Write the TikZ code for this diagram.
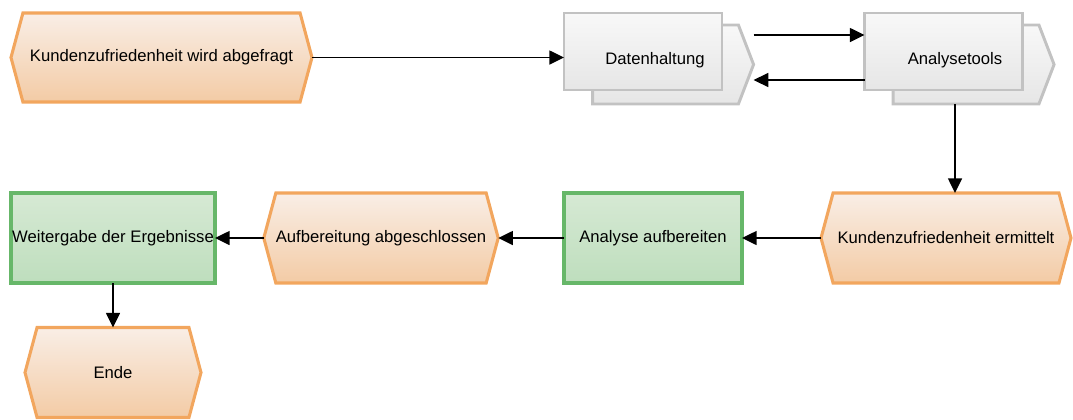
\documentclass[tikz,border=0pt]{standalone}
\usepackage{fontspec}
\setmainfont{Liberation Sans}
\usetikzlibrary{arrows.meta,shapes.symbols}
\definecolor{evline}{HTML}{F2A65E}
\definecolor{evtop}{HTML}{F9EEE6}
\definecolor{evbot}{HTML}{F3CBA5}
\definecolor{fnline}{HTML}{67B769}
\definecolor{fntop}{HTML}{D6E9D4}
\definecolor{fnbot}{HTML}{BEDEBD}
\definecolor{syline}{HTML}{C2C2C2}
\definecolor{sytop}{HTML}{F8F8F8}
\definecolor{sybot}{HTML}{E6E6E6}
\begin{document}
\begin{tikzpicture}[x=0.75pt,y=-0.75pt,
  font=\fontsize{12.5}{14}\selectfont,
  every node/.style={inner sep=0pt,outer sep=0pt},
  evt/.style={signal,signal to=east and west,signal pointer angle=150,
    draw=evline,line width=2.3pt,top color=evtop,bottom color=evbot,
    minimum height=90*0.75pt},
  fun/.style={rectangle,draw=fnline,line width=2.3pt,top color=fntop,
    bottom color=fnbot,minimum height=90*0.75pt},
  sysback/.style={signal,signal to=east,signal pointer angle=138,
    draw=syline,line width=2.2pt,top color=sytop,bottom color=sybot,
    minimum width=161*0.75pt,minimum height=79*0.75pt},
  sysfront/.style={rectangle,draw=syline,line width=2.2pt,top color=sytop,
    bottom color=sybot,minimum width=158*0.75pt,minimum height=77*0.75pt},
  conn/.style={line width=1.1pt,-{Triangle[length=11pt,width=10.5pt]}}]
\useasboundingbox (0,0) rectangle (1073,419);

% first event
\node[evt,minimum width=301*0.75pt,minimum height=89*0.75pt] (e1) at (161.5,57.5)
  {Kundenzufriedenheit wird abgefragt};

% application systems (stacked)
\node[sysback] (dhb) at (665.5,64.5) {};
\node[sysfront] (dh) at (643,51.5) {};
\node (dht) at (655,60) {Datenhaltung};
\node[sysback] (atb) at (966,64.5) {};
\node[sysfront] (at) at (943.5,51.5) {};
\node (att) at (955,60) {Analysetools};

% second row
\node[evt,minimum width=250*0.75pt] (e2) at (946,238) {Kundenzufriedenheit ermittelt};
\node[fun,minimum width=178*0.75pt] (f1) at (653,238) {Analyse aufbereiten};
\node[evt,minimum width=218*0.75pt] (e3) at (381,238) {Aufbereitung abgeschlossen};
\node[fun,minimum width=204*0.75pt] (f2) at (113,238) {Weitergabe der Ergebnisse};
\node[evt,minimum width=176*0.75pt] (e4) at (113,372.5) {Ende};

% connector levels between the two systems
\coordinate (upper) at (0,35);
\coordinate (lower) at (0,80);
\coordinate (down) at (955,0);

\draw[conn] (e1.east) -- (dh.west |- e1.east);
\draw[conn] (dhb.east |- upper) -- (at.west |- upper);
\draw[conn] (at.west |- lower) -- (dhb.east |- lower);
\draw[conn] (atb.south -| down) -- (e2.north -| down);
\draw[conn] (e2.west) -- (f1.east);
\draw[conn] (f1.west) -- (e3.east);
\draw[conn] (e3.west) -- (f2.east);
\draw[conn] (f2.south) -- (e4.north);
\end{tikzpicture}
\end{document}
